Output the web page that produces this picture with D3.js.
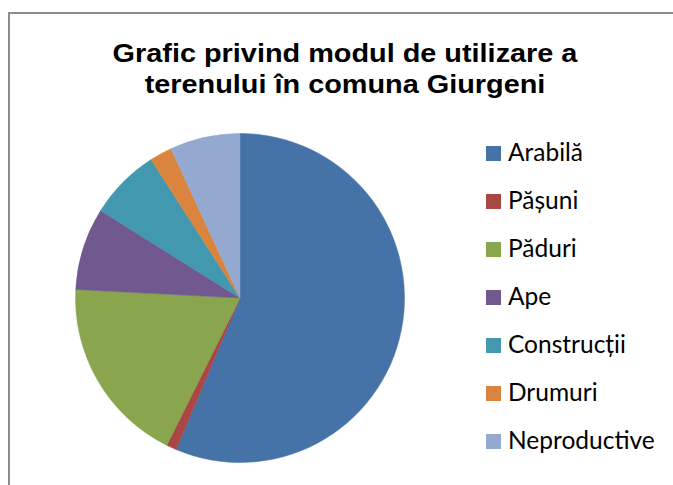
<!DOCTYPE html>
<html>
<head>
<meta charset="utf-8">
<script src="https://cdn.jsdelivr.net/npm/d3@7"></script>
<style>
  body { margin: 0; background: #fff; }
  svg { display: block; }
</style>
</head>
<body>
<svg width="673" height="485"></svg>
<script>
const svg = d3.select('svg');
const width = +svg.attr('width');
const height = +svg.attr('height');

// land use shares (%)
const categories = ['Arabilă', 'Pășuni', 'Păduri', 'Ape', 'Construcții', 'Drumuri', 'Neproductive'];
const values = [56.4, 1.0, 18.5, 8.1, 7.0, 2.2, 6.9];
const colors = ['#4572A7', '#AA4643', '#89A54E', '#71588F', '#4198AF', '#DB843D', '#93A9CF'];

const titleLines = ['Grafic privind modul de utilizare a', 'terenului în comuna Giurgeni'];

const data = categories.map((c, i) => ({ name: c, value: values[i] }));

const color = d3.scaleOrdinal()
    .domain(categories)
    .range(colors);

// chart frame (right and bottom edges fall outside the picture)
svg.append('rect')
    .attr('x', 9)
    .attr('y', 13)
    .attr('width', width)
    .attr('height', height)
    .attr('fill', '#fff')
    .attr('stroke', '#8c8c8c')
    .attr('stroke-width', 2);

// title (the original is a bit stretched sideways)
svg.append('text')
    .attr('transform', 'translate(345, 62) scale(1.11, 1)')
    .attr('text-anchor', 'middle')
    .attr('font-family', '"Liberation Sans", Arial, sans-serif')
    .attr('font-weight', 'bold')
    .attr('font-size', 26)
    .selectAll('tspan').data(titleLines).enter()
    .append('tspan')
        .attr('x', 0)
        .attr('dy', (d, i) => i === 0 ? 0 : 31.5)
        .text(d => d);

// pie
const cx = 240, cy = 298, radius = 164.5;

const pie = d3.pie()
    .value(d => d.value)
    .sort(null);

const arc = d3.arc()
    .innerRadius(0)
    .outerRadius(radius);

const pieG = svg.append('g')
    .attr('transform', `translate(${cx}, ${cy})`);

pieG.selectAll('path').data(pie(data)).enter()
    .append('path')
        .attr('d', arc)
        .attr('fill', d => color(d.data.name))
        .attr('stroke', d => color(d.data.name))
        .attr('stroke-width', 0.5);

// legend
const legend = svg.append('g')
    .attr('transform', 'translate(486, 146)');

const item = legend.selectAll('g').data(categories).enter()
    .append('g')
        .attr('transform', (d, i) => `translate(0, ${i * 48})`);

item.append('rect')
    .attr('width', 15)
    .attr('height', 15)
    .attr('fill', d => color(d));

item.append('text')
    .attr('x', 22)
    .attr('y', 15)
    .attr('font-family', 'Lato, "Noto Sans", sans-serif')
    .attr('font-size', 24.5)
    .attr('fill', '#000')
    .text(d => d);
</script>
</body>
</html>
